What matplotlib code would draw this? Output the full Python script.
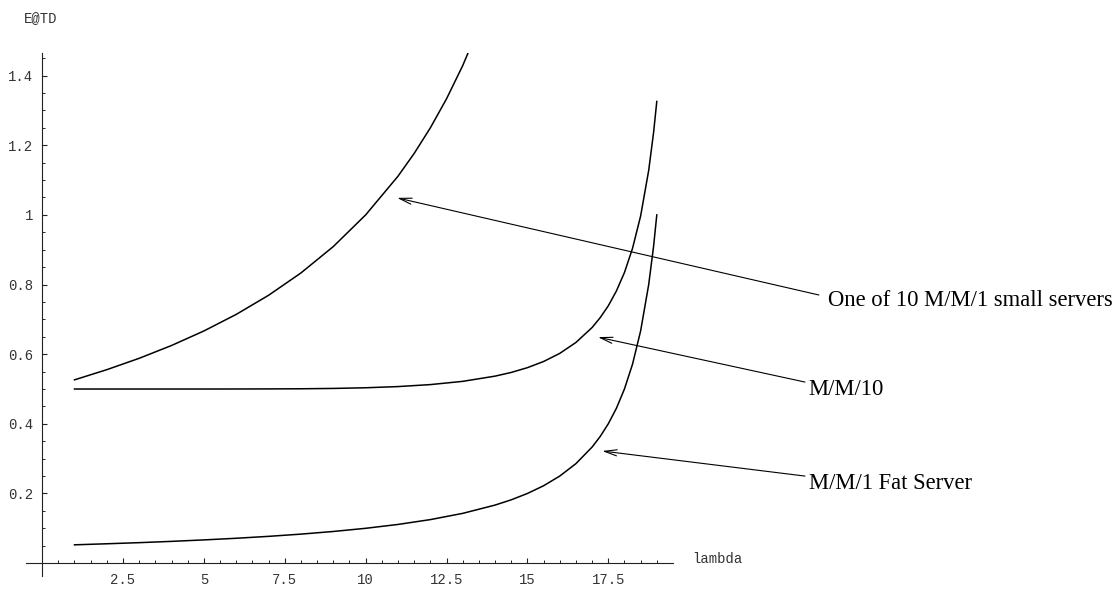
import matplotlib
matplotlib.use('Agg')
import matplotlib.pyplot as plt
from matplotlib.ticker import FixedLocator, FuncFormatter

# values
lam = [1, 2, 3, 4, 5, 6, 7, 8, 9, 10, 11, 12, 13, 14, 14.5, 15, 15.5, 16,
       16.5, 17, 17.25, 17.5, 17.75, 18, 18.25, 18.5, 18.75, 18.9, 19]
fat_server = [0.0526, 0.0556, 0.0588, 0.0625, 0.0667, 0.0714, 0.0769, 0.0833,
              0.0909, 0.1, 0.1111, 0.125, 0.1429, 0.1667, 0.1818, 0.2, 0.2222,
              0.25, 0.2857, 0.3333, 0.3636, 0.4, 0.4444, 0.5, 0.5714, 0.6667,
              0.8, 0.9091, 1.0]
mm10 = [0.5, 0.5, 0.5, 0.5, 0.5, 0.5001, 0.5003, 0.5007, 0.5017, 0.5036,
        0.507, 0.5127, 0.522, 0.537, 0.5476, 0.5613, 0.579, 0.6023, 0.6337,
        0.6766, 0.7049, 0.7388, 0.7813, 0.8344, 0.904, 0.9967, 1.128, 1.236,
        1.3257]
lam_small = [1, 2, 3, 4, 5, 6, 7, 8, 9, 10, 11, 11.5, 12, 12.5, 13, 13.5]
small_servers = [0.5263, 0.5556, 0.5882, 0.625, 0.6667, 0.7143, 0.7692,
                 0.8333, 0.9091, 1.0, 1.1111, 1.1765, 1.25, 1.3333, 1.4286,
                 1.5385]

xticks = [2.5, 5, 7.5, 10, 12.5, 15, 17.5]
yticks = [0.2, 0.4, 0.6, 0.8, 1.0, 1.2, 1.4]
labels = ['One of 10 M/M/1 small servers', 'M/M/10', 'M/M/1 Fat Server']
tips = [(10.97, 1.049), (17.18, 0.649), (17.31, 0.322)]
tails = [(24.01, 0.770), (23.58, 0.520), (23.58, 0.250)]
text_pos = [(24.29, 0.754), (23.70, 0.500), (23.70, 0.230)]

fig = plt.figure(figsize=(11.19, 5.9), dpi=100)
ax = fig.add_axes([0.0232, 0.0237, 0.5782, 0.8865])
ax.set_xlim(-0.5, 19.5)
ax.set_ylim(-0.037, 1.465)

for s in ['top', 'right']:
    ax.spines[s].set_visible(False)
ax.spines['left'].set_position(('data', 0))
ax.spines['bottom'].set_position(('data', 0))
for s in ['left', 'bottom']:
    ax.spines[s].set_linewidth(0.8)
    ax.spines[s].set_color('#222222')

ax.plot(lam_small, small_servers, color='black', lw=1.1)
ax.plot(lam, mm10, color='black', lw=1.1)
ax.plot(lam, fat_server, color='black', lw=1.1)

ax.xaxis.set_major_locator(FixedLocator(xticks))
ax.yaxis.set_major_locator(FixedLocator(yticks))
ax.xaxis.set_minor_locator(FixedLocator([i * 0.5 for i in range(1, 39) if (i * 0.5) % 2.5 != 0]))
ax.yaxis.set_minor_locator(FixedLocator([i * 0.05 for i in range(1, 30) if i % 4 != 0]))
fmt = FuncFormatter(lambda v, p: '%g' % round(v, 2))
ax.xaxis.set_major_formatter(fmt)
ax.yaxis.set_major_formatter(fmt)
ax.tick_params(which='major', direction='in', length=3.8, width=0.8, color='#222222',
               labelsize=10, labelcolor='#333333')
ax.tick_params(which='minor', direction='in', length=2.2, width=0.7, color='#222222')
ax.tick_params(axis='x', pad=7)
ax.tick_params(axis='y', pad=6.5)
for t in ax.get_xticklabels() + ax.get_yticklabels():
    t.set_family('Liberation Mono')

ax.text(20.08, 0.0, 'lambda', family='Liberation Mono', fontsize=10, color='#333333',
        ha='left', va='baseline', clip_on=False)
fig.text(24 / 1119, 1 - 18 / 590, 'E@TD', family='Liberation Mono', fontsize=10,
         color='#333333', ha='left', va='center')

for lab, tip, tail, pos in zip(labels, tips, tails, text_pos):
    ax.annotate('', xy=tip, xytext=tail, annotation_clip=False,
                arrowprops=dict(arrowstyle='->,head_length=0.9,head_width=0.22',
                                color='black', lw=0.8, mutation_scale=10,
                                shrinkA=0, shrinkB=0))
    ax.text(pos[0], pos[1], lab, family='Liberation Serif', fontsize=16.3,
            ha='left', va='center', clip_on=False)

fig.savefig('out.png', dpi=100)
